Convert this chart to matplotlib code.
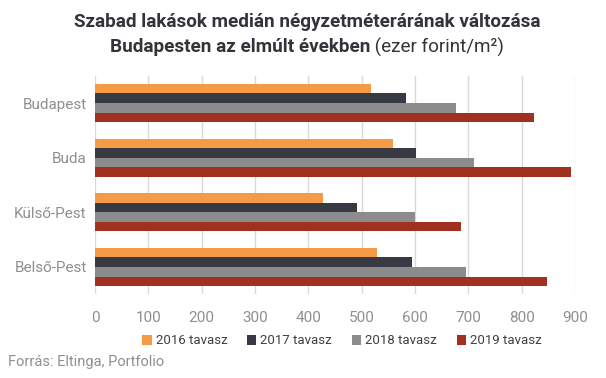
import matplotlib
matplotlib.use("Agg")
import matplotlib.pyplot as plt
import numpy as np

categories = ["Budapest", "Buda", "Külső-Pest", "Belső-Pest"]
series_names = ["2016 tavasz", "2017 tavasz", "2018 tavasz", "2019 tavasz"]
v2016 = [518, 559, 427, 529]
v2017 = [583, 602, 492, 595]
v2018 = [677, 710, 600, 695]
v2019 = [824, 893, 686, 848]
xticks = [0, 100, 200, 300, 400, 500, 600, 700, 800, 900]
colors = ["#F59B45", "#373A42", "#8C8C8C", "#A03121"]

plt.rcParams['font.family'] = ['Roboto', 'DejaVu Sans']

fig = plt.figure(figsize=(6.06, 3.78), dpi=100)
ax = fig.add_axes([0.1568, 0.2214, 0.792, 0.5783])

values = [v2016, v2017, v2018, v2019]
n = len(series_names)
y = np.arange(len(categories))
group_h = 0.70
bar_h = group_h / n
for i, (name, vals, c) in enumerate(zip(series_names, values, colors)):
    offs = -group_h / 2 + bar_h * (i + 0.5)
    ax.barh(y + offs, vals, height=bar_h, color=c, label=name, zorder=3)

ax.set_ylim(len(categories) - 0.5, -0.5)
ax.set_xlim(0, 900)
ax.set_yticks(y)
ax.set_yticklabels(categories)
ax.set_xticks(xticks)
ax.set_xticklabels([str(t) for t in xticks])
ax.xaxis.grid(True, color="#D9D9D9", linewidth=1, zorder=0)
ax.set_axisbelow(True)
for s in ax.spines.values():
    s.set_visible(False)
ax.tick_params(axis="both", length=0, colors="#8F8F8F", labelsize=11)
ax.tick_params(axis="x", pad=12)
ax.tick_params(axis="y", pad=6)

leg = fig.legend(loc="center", bbox_to_anchor=(342 / 606, 1 - 341 / 378), ncol=4,
                 frameon=False, handlelength=0.7, handleheight=0.7, handletextpad=0.3,
                 columnspacing=1.5, fontsize=9.5)
for t in leg.get_texts():
    t.set_color("#404040")

fig.text(8 / 606, 1 - 362 / 378, "Forrás: Eltinga, Portfolio", fontsize=10.5,
         color="#8F8F8F", ha="left", va="center")

title_color = "#33343A"
tfs = 13.6
fig.text(307 / 606, 1 - 22 / 378, "Szabad lakások medián négyzetméterárának változása",
         fontsize=tfs, fontweight="bold", color=title_color, ha="center", va="center")

# second title line: bold part + regular part, centered together
fig.canvas.draw()
r = fig.canvas.get_renderer()
t1 = fig.text(0, 1 - 47 / 378, "Budapesten az elmúlt években", fontsize=tfs,
              fontweight="bold", color=title_color, ha="left", va="center")
t2 = fig.text(0, 1 - 47 / 378, " (ezer forint/m²)", fontsize=tfs,
              color=title_color, ha="left", va="center")
w1 = t1.get_window_extent(r).width
w2 = t2.get_window_extent(r).width
W = fig.get_figwidth() * fig.dpi
start = 307 - (w1 + w2) / 2
t1.set_x(start / W)
t2.set_x((start + w1) / W)

fig.savefig("out.png", dpi=100)
